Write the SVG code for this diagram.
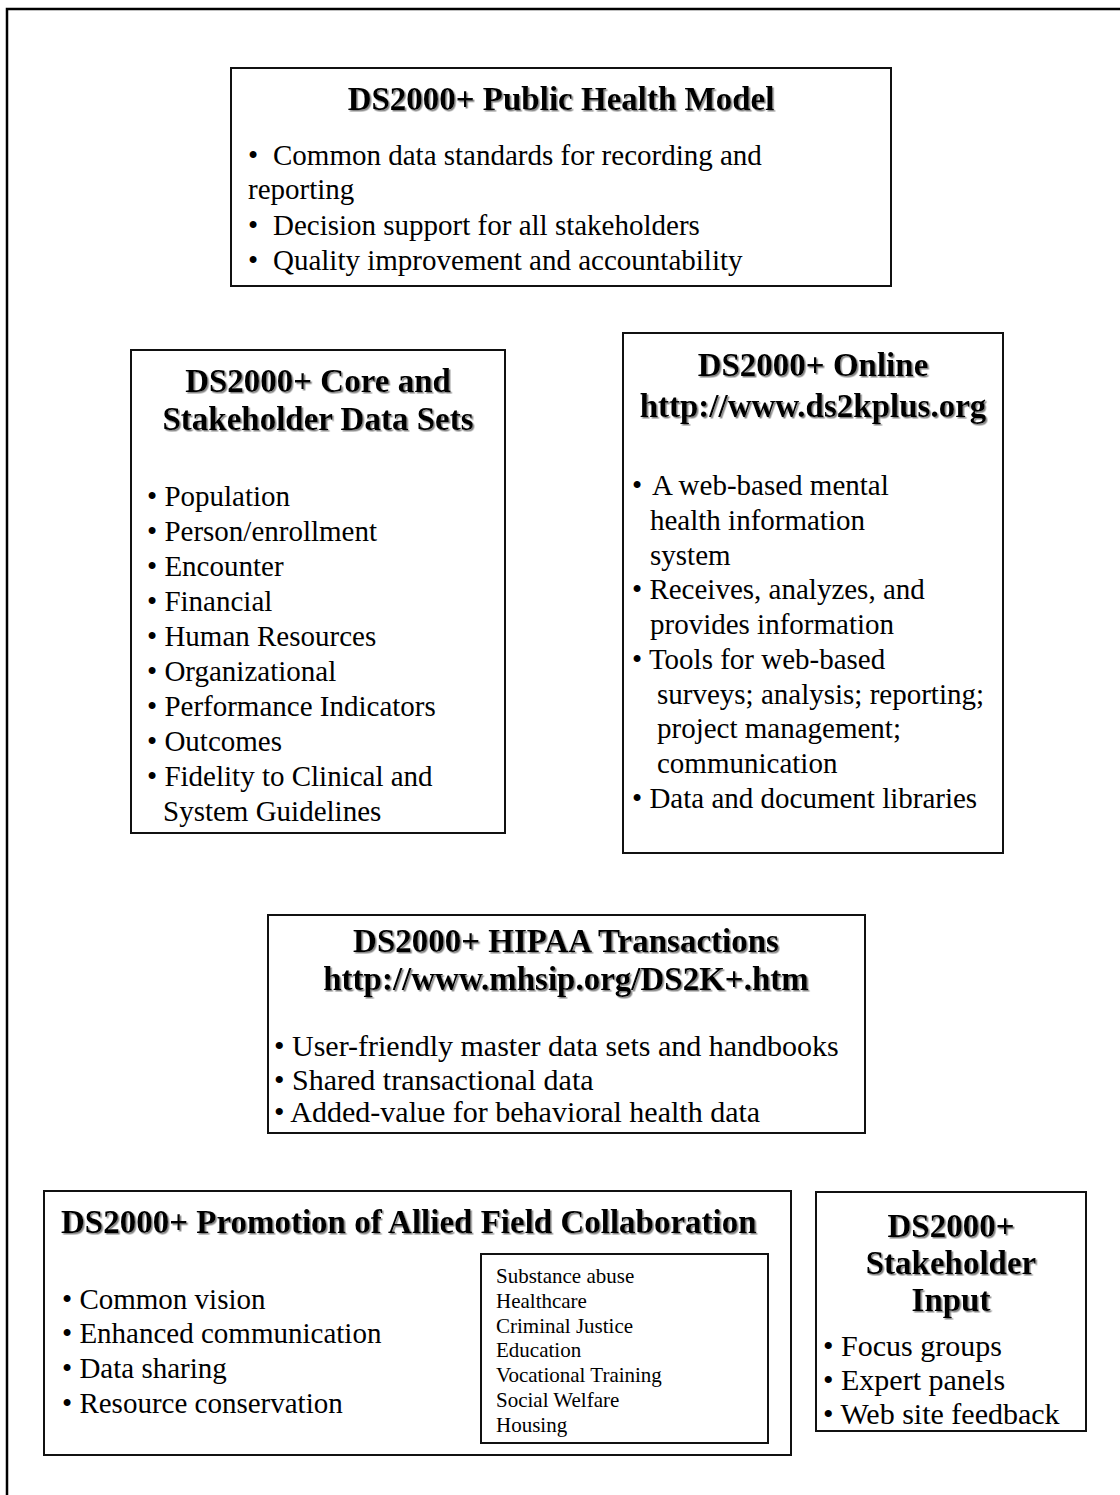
<svg xmlns="http://www.w3.org/2000/svg" width="1120" height="1495" viewBox="0 0 1120 1495">
<defs>
<filter id="sh" x="-5%" y="-20%" width="110%" height="140%">
<feDropShadow dx="1.5" dy="1.5" stdDeviation="0.7" flood-color="#777" flood-opacity="0.9"/>
</filter>
</defs>
<style>
text{font-family:"Liberation Serif","Times New Roman",serif;fill:#000}
.t{font-size:33px;font-weight:bold;text-anchor:middle;filter:url(#sh)}
.tl{font-size:33px;font-weight:bold;filter:url(#sh)}
.b{font-size:29px}
.bl{font-size:30px}
.s{font-size:21px}
.box{fill:#fff;stroke:#111;stroke-width:2}
.frame{fill:none;stroke:#000;stroke-width:2.5}
</style>
<rect width="1120" height="1495" fill="#fff"/>
<path class="frame" d="M7,1495 V9 H1120"/>
<g id="connectors"></g>

<g id="public-health-model">
<rect class="box" x="231" y="68" width="660" height="218"/>
<text class="t" x="561" y="110">DS2000+ Public Health Model</text>
<text class="b" y="165"><tspan x="248">•</tspan><tspan x="273">Common data standards for recording and</tspan></text>
<text class="b" x="248" y="199">reporting</text>
<text class="b" y="235"><tspan x="248">•</tspan><tspan x="273">Decision support for all stakeholders</tspan></text>
<text class="b" y="270"><tspan x="248">•</tspan><tspan x="273">Quality improvement and accountability</tspan></text>
</g>

<g id="core-data-sets">
<rect class="box" x="131" y="350" width="374" height="483"/>
<text class="t" x="318" y="392">DS2000+ Core and</text>
<text class="t" x="318" y="430">Stakeholder Data Sets</text>
<text class="b" x="147" y="506">• Population</text>
<text class="b" x="147" y="541">• Person/enrollment</text>
<text class="b" x="147" y="576">• Encounter</text>
<text class="b" x="147" y="611">• Financial</text>
<text class="b" x="147" y="646">• Human Resources</text>
<text class="b" x="147" y="681">• Organizational</text>
<text class="b" x="147" y="716">• Performance Indicators</text>
<text class="b" x="147" y="751">• Outcomes</text>
<text class="b" x="147" y="786">• Fidelity to Clinical and</text>
<text class="b" x="163" y="821">System Guidelines</text>
</g>

<g id="online">
<rect class="box" x="623" y="333" width="380" height="520"/>
<text class="t" x="813" y="376">DS2000+ Online</text>
<text class="t" x="813" y="417">http://www.ds2kplus.org</text>
<text class="b" x="632" y="495">• <tspan x="652">A web-based mental</tspan></text>
<text class="b" x="650" y="530">health information</text>
<text class="b" x="650" y="565">system</text>
<text class="b" x="632" y="599">• Receives, analyzes, and</text>
<text class="b" x="650" y="634">provides information</text>
<text class="b" x="632" y="669">• Tools for web-based</text>
<text class="b" x="657" y="704">surveys; analysis; reporting;</text>
<text class="b" x="657" y="738">project management;</text>
<text class="b" x="657" y="773">communication</text>
<text class="b" x="632" y="808">• Data and document libraries</text>
</g>

<g id="hipaa">
<rect class="box" x="268" y="915" width="597" height="218"/>
<text class="t" x="566" y="952">DS2000+ HIPAA Transactions</text>
<text class="t" x="566" y="990">http://www.mhsip.org/DS2K+.htm</text>
<text class="bl" x="274" y="1056">• User-friendly master data sets and handbooks</text>
<text class="bl" x="274" y="1090">• Shared transactional data</text>
<text class="bl" x="274" y="1122">• Added-value for behavioral health data</text>
</g>

<g id="allied-field">
<rect class="box" x="44" y="1191" width="747" height="264"/>
<text class="tl" x="61" y="1233">DS2000+ Promotion of Allied Field Collaboration</text>
<text class="b" x="62" y="1309">• Common vision</text>
<text class="b" x="62" y="1343">• Enhanced communication</text>
<text class="b" x="62" y="1378">• Data sharing</text>
<text class="b" x="62" y="1413">• Resource conservation</text>
</g>

<g id="allied-fields-list">
<rect class="box" x="481" y="1254" width="287" height="189"/>
<text class="s" x="496" y="1283">Substance abuse</text>
<text class="s" x="496" y="1308">Healthcare</text>
<text class="s" x="496" y="1333">Criminal Justice</text>
<text class="s" x="496" y="1357">Education</text>
<text class="s" x="496" y="1382">Vocational Training</text>
<text class="s" x="496" y="1407">Social Welfare</text>
<text class="s" x="496" y="1432">Housing</text>
</g>

<g id="stakeholder-input">
<rect class="box" x="816" y="1192" width="270" height="239"/>
<text class="t" x="951" y="1237">DS2000+</text>
<text class="t" x="951" y="1274">Stakeholder</text>
<text class="t" x="951" y="1311">Input</text>
<text class="bl" x="823" y="1356">• Focus groups</text>
<text class="bl" x="823" y="1390">• Expert panels</text>
<text class="bl" x="823" y="1424">• Web site feedback</text>
</g>
</svg>
